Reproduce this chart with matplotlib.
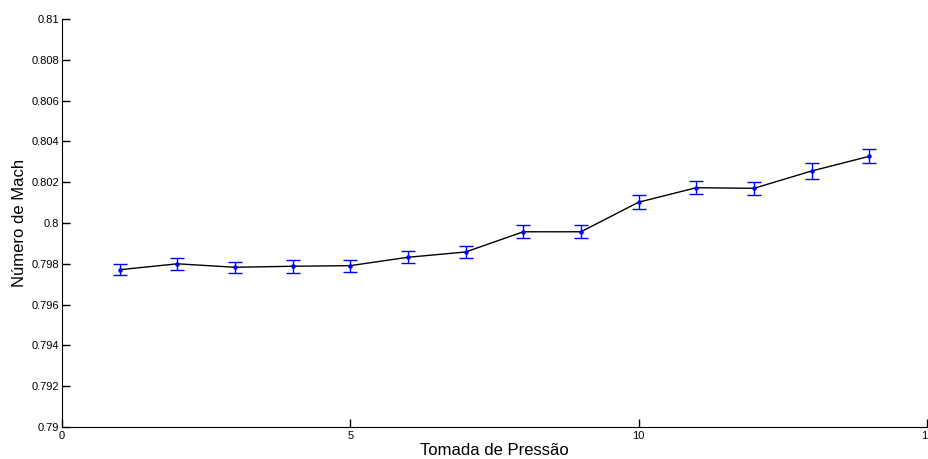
import numpy as np
import matplotlib.pyplot as plt

plt.rcParams['font.family'] = ['Liberation Sans', 'DejaVu Sans']

# tomadas de pressao e numero de Mach medio com desvio
tomada = [1, 2, 3, 4, 5, 6, 7, 8, 9, 10, 11, 12, 13, 14]
mach = [0.79771, 0.79800, 0.79783, 0.79788, 0.79791, 0.79832, 0.79858,
        0.79957, 0.79957, 0.80102, 0.80173, 0.80170, 0.80255, 0.80327]
erro = [0.00026, 0.00030, 0.00027, 0.00033, 0.00030, 0.00029, 0.00030,
        0.00032, 0.00032, 0.00034, 0.00033, 0.00033, 0.00038, 0.00034]

x_ticks = [0, 5, 10, 15]
y_ticks = [0.79, 0.792, 0.794, 0.796, 0.798, 0.8, 0.802, 0.804, 0.806, 0.808, 0.81]
y_tick_labels = ['0.79', '0.792', '0.794', '0.796', '0.798', '0.8', '0.802',
                 '0.804', '0.806', '0.808', '0.81']

fig = plt.figure(figsize=(9.29, 4.59), dpi=100)
ax = fig.add_axes([0.0667, 0.0697, 0.9311, 0.8889])

ax.plot(tomada, mach, '-', color='black', linewidth=1.0, zorder=2)
ax.errorbar(tomada, mach, yerr=erro, fmt='.', color='blue', ecolor='blue',
            markersize=4.5, elinewidth=1.0, capsize=5, capthick=1.0, zorder=3)

ax.set_xlim(0, 15)
ax.set_ylim(0.79, 0.81)
ax.set_xticks(x_ticks)
ax.set_xticklabels([str(t) for t in x_ticks])
ax.set_yticks(y_ticks)
ax.set_yticklabels(y_tick_labels)

# estilo "box off"
ax.spines['top'].set_visible(False)
ax.spines['right'].set_visible(False)
ax.tick_params(direction='in', length=6, width=1.0, labelsize=8, pad=2,
               top=False, right=False)
ax.xaxis.set_tick_params(pad=3)

ax.set_xlabel('Tomada de Pressão', fontsize=12, labelpad=1)
ax.set_ylabel('Número de Mach', fontsize=12, labelpad=3)

fig.savefig('out.png', dpi=100)
